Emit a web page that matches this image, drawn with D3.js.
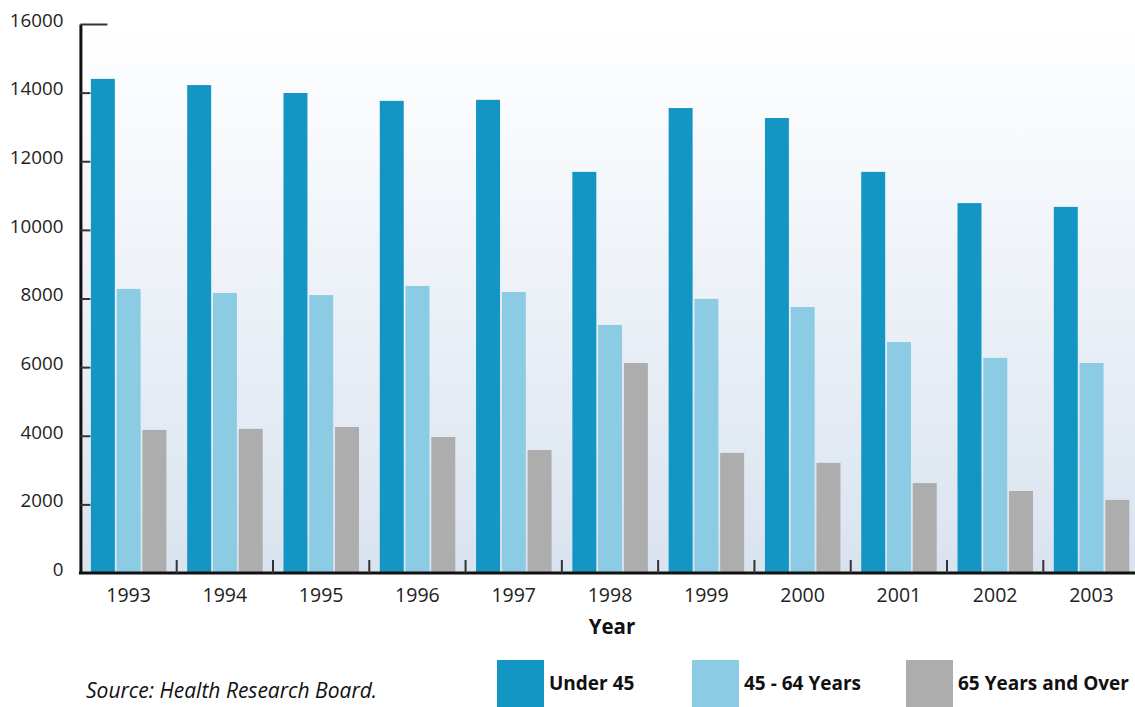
<!DOCTYPE html>
<html><head><meta charset="utf-8">
<script src="https://cdn.jsdelivr.net/npm/d3@7"></script>
<style>body{margin:0;background:#fff}svg{display:block}</style>
</head><body>
<script>
const years = ["1993","1994","1995","1996","1997","1998","1999","2000","2001","2002","2003"];
const seriesNames = ["Under 45","45 - 64 Years","65 Years and Over"];
const under45 = [14400,14220,13990,13760,13790,11690,13550,13260,11690,10780,10670];
const age45to64 = [8280,8160,8100,8365,8190,7230,7990,7750,6730,6270,6120];
const over65 = [4170,4200,4255,3965,3585,6120,3500,3210,2620,2390,2130];
const yTicks = [0,2000,4000,6000,8000,10000,12000,14000,16000];
const colors = ["#1496c4","#8bcbe4","#adadad"];

const W = 1135, H = 707;
const font = "'Open Sans', 'DejaVu Sans', sans-serif";
const svg = d3.select("body").append("svg").attr("width", W).attr("height", H);

const x0 = 80.4, xEnd = 1139.6, yTop = 24, yBot = 573;
const x = d3.scaleBand().domain(years).range([x0, xEnd]);
const xi = d3.scaleBand().domain(seriesNames).range([10.5, 86]).paddingInner(0.07);
const y = d3.scaleLinear().domain([0,16000]).range([yBot, yTop]);

const defs = svg.append("defs");
const g = defs.append("linearGradient").attr("id","bg").attr("x1",0).attr("y1",0).attr("x2",0).attr("y2",1);
g.append("stop").attr("offset","0%").attr("stop-color","#ffffff");
g.append("stop").attr("offset","100%").attr("stop-color","#d9e3ef");
svg.append("rect").attr("x",x0).attr("y",yTop).attr("width",W-x0).attr("height",yBot-yTop).attr("fill","url(#bg)");

const data = years.map((yr,i)=>({year:yr, vals:[under45[i],age45to64[i],over65[i]]}));
const grp = svg.append("g").selectAll("g").data(data).join("g")
  .attr("transform", d=>`translate(${x(d.year)},0)`);
grp.selectAll("rect").data(d=>d.vals.map((v,j)=>({name:seriesNames[j], v, j})))
  .join("rect")
  .attr("x", d=>xi(d.name)).attr("width", xi.bandwidth())
  .attr("y", d=>y(d.v)).attr("height", d=>yBot - y(d.v))
  .attr("fill", d=>colors[d.j]);

// Y axis
const yAxis = svg.append("g").attr("transform",`translate(${x0},0)`)
  .call(d3.axisLeft(y).tickValues(yTicks).tickFormat(d3.format("d")).tickSizeInner(-10).tickSizeOuter(0).tickPadding(17));
yAxis.select(".domain").attr("stroke","#111").attr("stroke-width",3);
yAxis.selectAll(".tick line").attr("stroke","#333").attr("stroke-width",2);
yAxis.selectAll(".tick").filter(d=>d===16000).select("line").attr("x2",27);
yAxis.selectAll(".tick").filter(d=>d===0).select("line").remove();
yAxis.selectAll("text").attr("font-family",font).attr("font-size",18.8).attr("fill","#222").attr("dy","0.12em");

// X axis
const xAxis = svg.append("g").attr("transform",`translate(0,${yBot})`)
  .call(d3.axisBottom(x).tickSize(0).tickPadding(15));
xAxis.select(".domain").remove();
xAxis.selectAll("text").attr("font-family",font).attr("font-size",19.5).attr("fill","#222");
svg.append("line").attr("x1",x0-1.5).attr("x2",W).attr("y1",yBot).attr("y2",yBot).attr("stroke","#111").attr("stroke-width",3);
svg.append("g").selectAll("line").data(years.slice(1))
  .join("line")
  .attr("x1", d=>x(d)).attr("x2", d=>x(d)).attr("y1", yBot-13).attr("y2", yBot)
  .attr("stroke","#333").attr("stroke-width",2);

svg.append("text").attr("x",612).attr("y",634).attr("text-anchor","middle")
  .attr("font-family",font).attr("font-size",20.5).attr("font-weight","bold").attr("fill","#111").text("Year");

svg.append("text").attr("x",86).attr("y",698)
  .attr("font-family",font).attr("font-size",21).attr("font-style","italic").attr("fill","#111").text("Source: Health Research Board.");

const legX = [497, 692, 906];
const leg = svg.append("g").selectAll("g").data(seriesNames).join("g")
  .attr("transform",(d,i)=>`translate(${legX[i]},660)`);
leg.append("rect").attr("width",47).attr("height",50).attr("fill",(d,i)=>colors[i]);
leg.append("text").attr("x",52).attr("y",30).attr("font-family",font).attr("font-size",19)
  .attr("font-weight","bold").attr("fill","#111").text(d=>d);
</script>
</body></html>
